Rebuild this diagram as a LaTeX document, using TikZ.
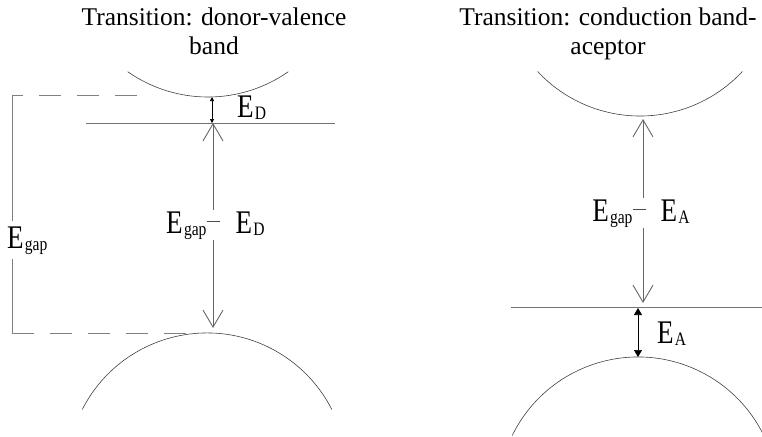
\documentclass[tikz,border=0pt]{standalone}
\usepackage{fontspec}
\usepackage{graphicx}
\usepackage{tikz}
\usetikzlibrary{arrows.meta}
\newfontfamily\lblfont{Liberation Serif}
\newcommand{\lev}[1]{\scalebox{0.82}[1]{E\kern1.5pt\raisebox{-2pt}{\fontsize{19}{19}\selectfont #1}}}
\newcommand{\thinminus}{\raisebox{11.5pt}{\color{black!70}\rule{13pt}{0.8pt}}}

\begin{document}
\begin{tikzpicture}[x=1pt, y=-1pt,
  ttl/.style={align=center, inner sep=0pt, font=\lblfont\fontsize{25.5}{29}\selectfont},
  lbl/.style={inner sep=1pt, font=\lblfont\fontsize{33}{33}\selectfont},
  band/.style={draw=black!75, line width=0.6pt},
  lvl/.style={draw=black!55, line width=0.9pt},
  gap/.style={draw=black!60, line width=0.9pt, {Straight Barb[length=17pt,width=20pt]}-{Straight Barb[length=17pt,width=20pt]}},
  ion/.style={draw=black, line width=0.7pt, {Triangle[length=4pt,width=4pt]}-{Triangle[length=4pt,width=4pt]}},
  brk/.style={draw=black!50, line width=0.9pt}]
\useasboundingbox (0,0) rectangle (762,436);
% titles
\node[ttl, anchor=north] (tL) at (214,8) {Transition: donor-valence\\band};
\node[ttl, anchor=north] (tR) at (608,8) {Transition: conduction band-\\aceptor};
% band edges (y grows downwards)
\coordinate (cbL) at (208,97);
\coordinate (vbL) at (207,333);
\coordinate (cbR) at (640,116);
\coordinate (vbR) at (638,357);
\draw[band] (cbL) ++(-80.3,-25.3) arc[start angle=235, end angle=305, radius=140pt];
\draw[band] (vbL) ++(-124.7,76.4) arc[start angle=153, end angle=27, radius=140pt];
\draw[band] (cbR) ++(-102.4,-44.5) arc[start angle=223, end angle=317, radius=140pt];
\draw[band] (vbR) ++(-125.8,78.6) arc[start angle=154, end angle=26, radius=140pt];
% impurity levels
\coordinate (dW) at (86,123);
\coordinate (dE) at (335,123);
\coordinate (aW) at (511,307);
\coordinate (aE) at (762,307);
\draw[lvl] (dW) -- (dE);
\draw[lvl] (aW) -- (aE);
% left: donor -> valence band
\draw[ion] (212,97) -- (212,123);
\node[lbl, anchor=base west] (eD) at (236,117) {\lev{D}};
\draw[gap] (213,123) -- (213,328);
\node[lbl, anchor=base, fill=white] (gL) at (213,233)
  {\llap{\lev{gap}}\thinminus\rlap{\hspace{16pt}\lev{D}}};
% E_gap bracket
\coordinate (bT) at (12,95);
\coordinate (bB) at (12,333);
\draw[brk, dash pattern=on 22pt off 16pt] (137,95) -- (bT);
\draw[brk] (bT) -- (bB);
\draw[brk, dash pattern=on 22pt off 16pt] (bB) -- (186,333);
\node[lbl, anchor=base west, fill=white, inner ysep=5pt] (eG) at (6,248) {\lev{gap}};
% right: conduction band -> acceptor
\draw[gap] (643,119) -- (643,303);
\node[lbl, anchor=base, fill=white] (gR) at (639,221)
  {\llap{\lev{gap}}\thinminus\rlap{\hspace{15pt}\lev{A}}};
\draw[ion, {Triangle[length=7pt,width=8pt]}-{Triangle[length=7pt,width=8pt]}] (638,308) -- (638,357);
\node[lbl, anchor=base west] (eA) at (656,343) {\lev{A}};
\end{tikzpicture}
\end{document}
